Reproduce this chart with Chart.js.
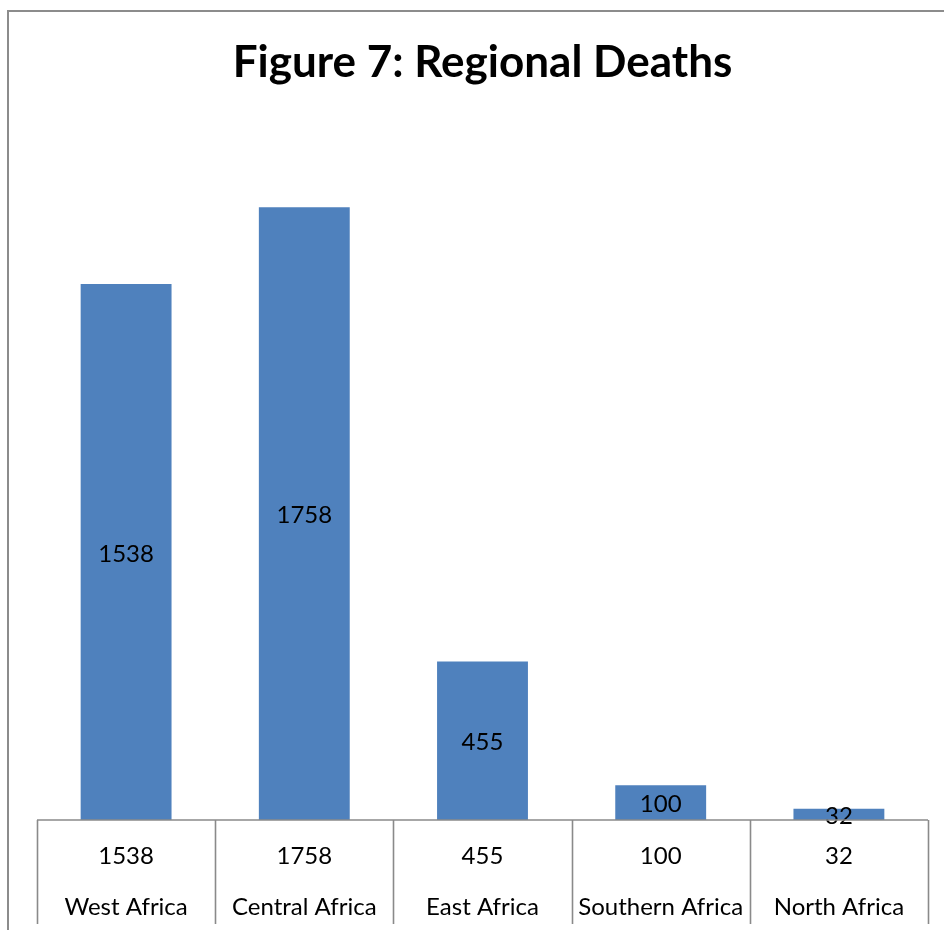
<!DOCTYPE html>
<html>
<head>
<meta charset="utf-8">
<script src="https://cdn.jsdelivr.net/npm/chart.js@4"></script>
<style>
  html, body { margin: 0; padding: 0; background: #fff; }
  #wrap { width: 944px; height: 930px; position: relative; }
</style>
</head>
<body>
<div id="wrap"><canvas id="c" width="944" height="930"></canvas></div>
<script>
const regions = ['West Africa', 'Central Africa', 'East Africa', 'Southern Africa', 'North Africa'];
const deaths = [1538, 1758, 455, 100, 32];
const titleText = 'Figure 7: Regional Deaths';

const FONT = 'Lato, "Open Sans", sans-serif';
const GRID = '#8a8a8a';

// Frame, in-bar value labels and the data table under the bars
const tablePlugin = {
  id: 'tablePlugin',
  beforeDraw(chart) {
    const ctx = chart.ctx;
    ctx.save();
    ctx.strokeStyle = '#8c8c8c';
    ctx.lineWidth = 2;
    ctx.beginPath();
    ctx.moveTo(8, 930);
    ctx.lineTo(8, 11);
    ctx.lineTo(944, 11);
    ctx.stroke();
    ctx.restore();
  },
  afterDatasetsDraw(chart) {
    const ctx = chart.ctx;
    const x = chart.scales.x;
    const area = chart.chartArea;
    const meta = chart.getDatasetMeta(0);
    ctx.save();
    ctx.fillStyle = '#000';
    ctx.font = '24px ' + FONT;
    ctx.textAlign = 'center';
    ctx.textBaseline = 'middle';
    meta.data.forEach((bar, i) => {
      const mid = (bar.y + bar.base) / 2;
      ctx.fillText(String(deaths[i]), bar.x, mid + 2);
    });

    // table grid
    ctx.strokeStyle = GRID;
    ctx.lineWidth = 1.6;
    const n = regions.length;
    const step = (area.right - area.left) / n;
    const bottom = 924;
    ctx.beginPath();
    ctx.moveTo(area.left, area.bottom);
    ctx.lineTo(area.right, area.bottom);
    for (let i = 0; i <= n; i++) {
      const gx = Math.round(area.left + i * step) + 0.5;
      ctx.moveTo(gx, area.bottom);
      ctx.lineTo(gx, bottom);
    }
    ctx.stroke();

    // table text
    ctx.fillStyle = '#000';
    regions.forEach((r, i) => {
      const cx = x.getPixelForValue(i);
      ctx.fillText(String(deaths[i]), cx, area.bottom + 36);
      ctx.fillText(r, cx, area.bottom + 87);
    });
    ctx.restore();
  }
};

new Chart(document.getElementById('c'), {
  type: 'bar',
  data: {
    labels: regions,
    datasets: [{
      data: deaths,
      backgroundColor: '#4F81BD',
      borderColor: '#4F81BD',
      borderWidth: 0,
      categoryPercentage: 1,
      barPercentage: 0.51
    }]
  },
  options: {
    responsive: false,
    animation: false,
    devicePixelRatio: 1,
    layout: { padding: { left: 37, right: 16, top: 0, bottom: 110 } },
    scales: {
      x: { display: false },
      y: { display: false, min: 0, max: 2000 }
    },
    plugins: {
      legend: { display: false },
      tooltip: { enabled: false },
      title: {
        display: true,
        text: titleText,
        color: '#000',
        font: { family: FONT, size: 44, weight: 'bold', lineHeight: 1.2 },
        padding: { top: 36, bottom: 34.2 }
      }
    }
  },
  plugins: [tablePlugin]
});
</script>
</body>
</html>
